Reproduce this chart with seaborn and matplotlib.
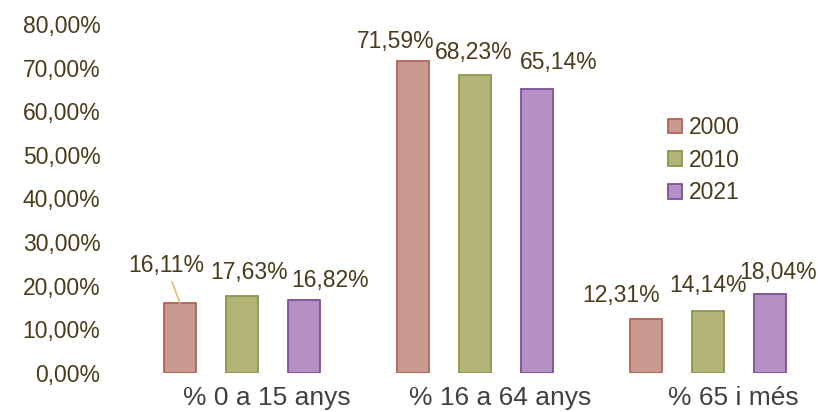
import matplotlib
matplotlib.use("Agg")
import matplotlib.pyplot as plt
from matplotlib.patches import Patch
from matplotlib.transforms import ScaledTranslation
import pandas as pd
import seaborn as sns

# Population share by age group (%)
groups = ["% 0 a 15 anys", "% 16 a 64 anys", "% 65 i més"]
years = ["2000", "2010", "2021"]
share_2000 = [16.11, 71.59, 12.31]
share_2010 = [17.63, 68.23, 14.14]
share_2021 = [16.82, 65.14, 18.04]
y_ticks = [0, 10, 20, 30, 40, 50, 60, 70, 80]

fills = ["#c99a8f", "#b3b576", "#b590c4"]
edges = ["#b0655a", "#8f944e", "#7f4f98"]
text_col = "#4a3b1a"

# label offsets from each bar top, in pixels (dx, dy up), per year then per group
label_offsets = {
    "2000": [(-14, 37), (-17, 19), (-25, 24)],
    "2010": [(7, 24), (-1, 23), (0, 26)],
    "2021": [(26, 19), (22, 26), (8, 22)],
}

df = pd.DataFrame({
    "grup": groups * 3,
    "any": [y for y in years for _ in groups],
    "valor": share_2000 + share_2010 + share_2021,
})

sns.set_theme(style="white")
plt.rcParams["font.family"] = ["Liberation Sans", "DejaVu Sans"]

fig = plt.figure(figsize=(8.18, 4.12), dpi=100)
ax = fig.add_axes([106 / 818, 39 / 412, 1 - 106 / 818, 349 / 412])

sns.barplot(data=df, x="grup", y="valor", hue="any", hue_order=years,
            order=groups, palette=fills, width=0.8, gap=0.484,
            legend=False, ax=ax, saturation=1)

for cont, ec in zip(ax.containers, edges):
    for bar in cont:
        bar.set_edgecolor(ec)
        bar.set_linewidth(1.3)

ax.set_ylim(0, 80)
ax.set_xlim((106 - 242) / 233, (818 - 242) / 233)
ax.set_yticks(y_ticks)
ax.set_yticklabels([f"{t:.2f}".replace(".", ",") + "%" for t in y_ticks])
ax.tick_params(axis="y", length=0, pad=4, labelsize=16.5, labelcolor=text_col)
ax.tick_params(axis="x", length=0, pad=9.5, labelsize=19, labelcolor="#404040")
ax.set_xlabel("")
ax.set_ylabel("")
for s in ax.spines.values():
    s.set_visible(False)
ax.grid(False)

shift = ScaledTranslation(25 / 100, 0, fig.dpi_scale_trans)
for lab in ax.get_xticklabels():
    lab.set_transform(lab.get_transform() + shift)

# value labels
for cont, yr in zip(ax.containers, years):
    for bar, (dx, dy) in zip(cont, label_offsets[yr]):
        v = bar.get_height()
        xc = bar.get_x() + bar.get_width() / 2
        txt = f"{v:.2f}".replace(".", ",") + "%"
        kw = {}
        if yr == "2000" and dy > 30:
            kw["arrowprops"] = dict(arrowstyle="-", color="#e5c17c", lw=1.3,
                                    shrinkA=1, shrinkB=0)
        ax.annotate(txt, xy=(xc, v), xytext=(dx * 0.72, dy * 0.72),
                    textcoords="offset points", ha="center", va="center",
                    fontsize=16.5, color=text_col, annotation_clip=False, **kw)

handles = [Patch(facecolor=f, edgecolor=e, linewidth=1.3, label=y)
           for f, e, y in zip(fills, edges, years)]
fig.legend(handles=handles, loc="upper left",
           bbox_to_anchor=(668 / 818, 1 - 116 / 412),
           bbox_transform=fig.transFigure, frameon=False, fontsize=16.5,
           labelcolor=text_col, handlelength=0.62, handleheight=0.62,
           handletextpad=0.28, labelspacing=0.42, borderpad=0,
           borderaxespad=0)

fig.savefig("out.png", dpi=100)
